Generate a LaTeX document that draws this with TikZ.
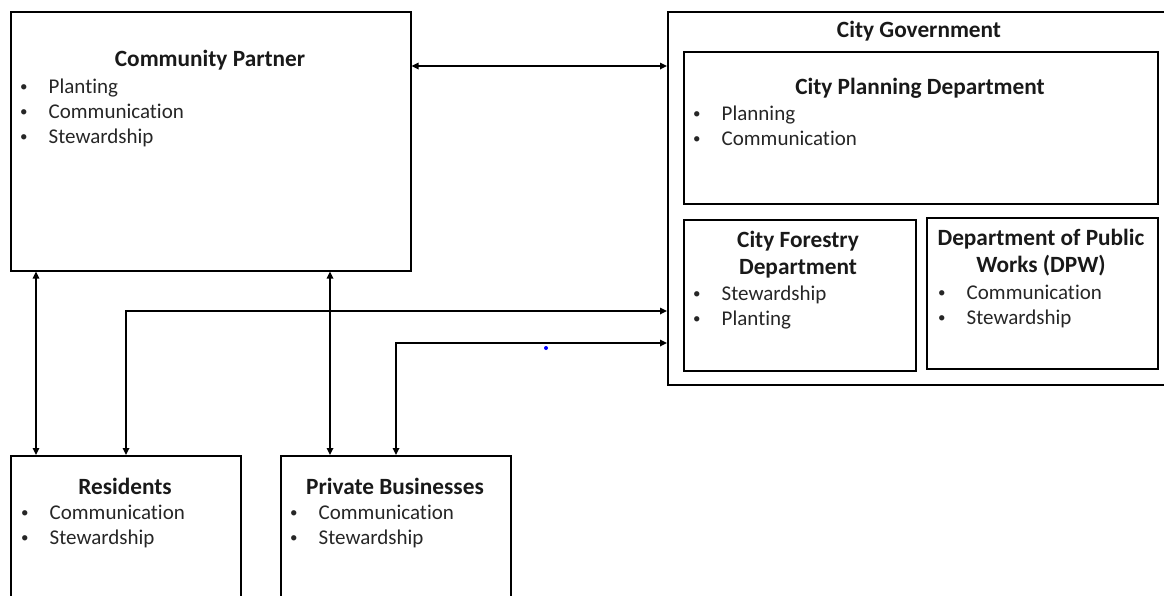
\documentclass[tikz,border=0pt]{standalone}
\usepackage{fontspec}
\setmainfont{Carlito}[Ligatures={NoCommon}]
\usetikzlibrary{arrows.meta,calc}
\begin{document}
\begin{tikzpicture}[x=1pt,y=-1pt,
  box/.style={draw=black,line width=1.6pt,rectangle,inner sep=0pt,anchor=north west},
  ttl/.style={anchor=base,inner sep=0pt,font=\fontsize{23.3}{27}\selectfont\bfseries,text=black!90},
  itm/.style={anchor=base west,inner sep=0pt,font=\fontsize{21}{25}\selectfont,text=black!85},
  conn/.style={line width=1.6pt,{Triangle[length=7pt,width=6.5pt]}-{Triangle[length=7pt,width=6.5pt]}}]
\useasboundingbox (0,0) rectangle (1164,595);
\clip (0,0) rectangle (1164,595);
\newcommand{\bul}[1]{\makebox[28.5pt][l]{\raisebox{2pt}{\fontsize{15}{15}\selectfont •}}#1}
% boxes
\node[box,minimum width=400,minimum height=259] (cp) at (10,11) {};
\node[box,minimum width=520,minimum height=373] (cg) at (667,11) {};
\node[box,minimum width=474,minimum height=152] (plan) at (683,51) {};
\node[box,minimum width=232,minimum height=151] (forest) at (683,219) {};
\node[box,minimum width=231,minimum height=151] (dpw) at (926,217) {};
\node[box,minimum width=230,minimum height=170] (res) at (10,455) {};
\node[box,minimum width=230,minimum height=170] (priv) at (280,455) {};
% texts
\node[ttl] (cpt) at (210,66) {Community Partner};
\node[itm] (cp1) at (20,93) {\bul{Planting}};
\node[itm] (cp2) at (20,118) {\bul{Communication}};
\node[itm] (cp3) at (20,143) {\bul{Stewardship}};
\node[ttl] (cgt) at (919,37) {City Government};
\node[ttl] (plt) at (920,94) {City Planning Department};
\node[itm] (pl1) at (693,120) {\bul{Planning}};
\node[itm] (pl2) at (693,145) {\bul{Communication}};
\node[ttl] (fot1) at (798,247) {City Forestry};
\node[ttl] (fot2) at (798,274) {Department};
\node[itm] (fo1) at (693,300) {\bul{Stewardship}};
\node[itm] (fo2) at (693,325) {\bul{Planting}};
\node[ttl] (dpt1) at (1041,245) {Department of Public};
\node[ttl] (dpt2) at (1041,272) {Works (DPW)};
\node[itm] (dp1) at (938,299) {\bul{Communication}};
\node[itm] (dp2) at (938,324) {\bul{Stewardship}};
\node[ttl] (rst) at (125,494) {Residents};
\node[itm] (rs1) at (21,519) {\bul{Communication}};
\node[itm] (rs2) at (21,544) {\bul{Stewardship}};
\node[ttl] (pbt) at (395,494) {Private Businesses};
\node[itm] (pb1) at (290,519) {\bul{Communication}};
\node[itm] (pb2) at (290,544) {\bul{Stewardship}};
% connectors
\draw[conn] ($(cp.north east)+(0,55)$) -- ($(cg.north west)+(0,55)$);
\draw[conn] ($(cp.south west)+(26,0)$) -- ($(res.north west)+(26,0)$);
\draw[conn] ($(cp.south west)+(320,0)$) -- ($(priv.north west)+(50,0)$);
\draw[conn] ($(res.north west)+(116,0)$) |- ($(cg.north west)+(0,300)$);
\draw[conn] ($(priv.north west)+(116,0)$) |- ($(cg.north west)+(0,332)$);
\fill[blue] (546,348) circle (2);
\end{tikzpicture}
\end{document}
